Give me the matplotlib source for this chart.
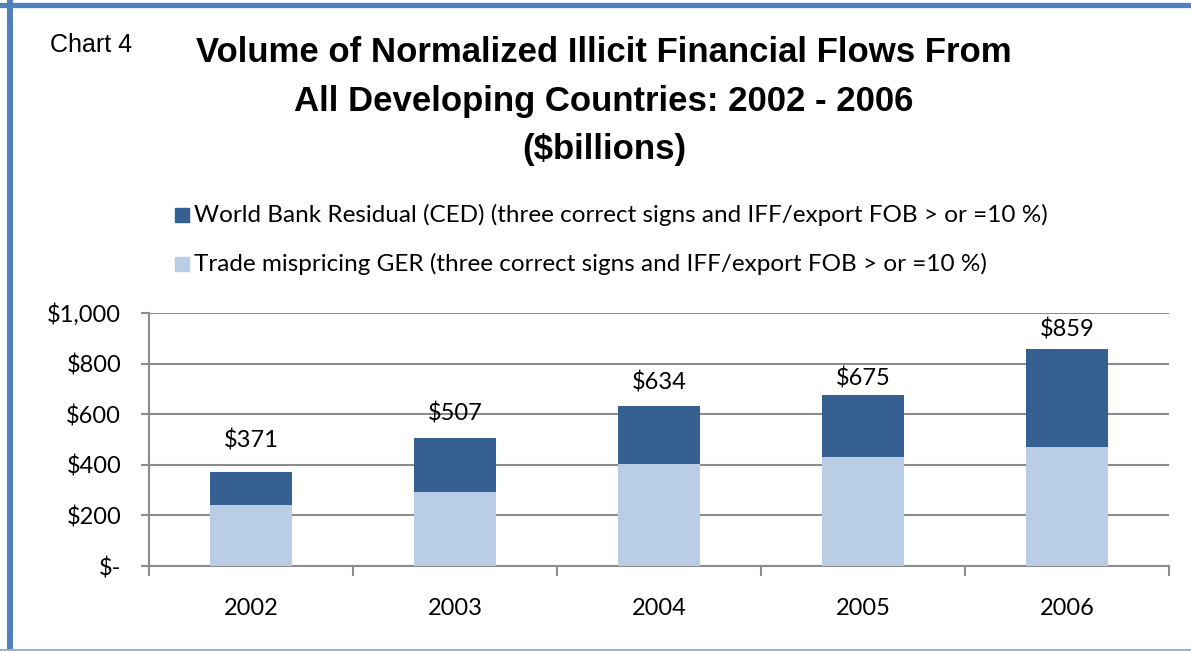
import matplotlib.pyplot as plt
from matplotlib.lines import Line2D

# Data (USD billions)
years = ['2002', '2003', '2004', '2005', '2006']
totals = [371, 507, 634, 675, 859]
trade_ger = [241, 292, 403, 432, 471]
wb_ced = [t - g for t, g in zip(totals, trade_ger)]
y_ticks = [0, 200, 400, 600, 800, 1000]
y_labels = ['$-', '$200', '$400', '$600', '$800', '$1,000']

# label gap above each bar (pixels), as placed in the original
label_gap = [21, 13, 12, 6, 8]

DARK = '#376092'
LIGHT = '#B9CDE5'
GRID = '#8C8C8C'
BODY_FONT = ['Lato', 'DejaVu Sans']
TITLE_FONT = ['Liberation Sans', 'DejaVu Sans']

W, H = 1191, 651
fig = plt.figure(figsize=(W / 100, H / 100), dpi=100)

def px(x, y):
    return x / W, 1 - y / H

# outer frame: top + left dark blue, bottom light blue
fig.lines.append(Line2D([0, 1], [1 - 4.5 / H] * 2, transform=fig.transFigure,
                        color='#4F81BD', lw=3.8))
fig.lines.append(Line2D([9.5 / W] * 2, [0, 1 - 2.5 / H], transform=fig.transFigure,
                        color='#4F81BD', lw=4.3))
fig.lines.append(Line2D([0, 1], [1 / H] * 2, transform=fig.transFigure,
                        color='#95B3D7', lw=1.5))

# axes placed in pixel coords
left, right, top, bottom = 149, 1169, 313, 566
ax = fig.add_axes([left / W, 1 - bottom / H, (right - left) / W, (bottom - top) / H])

x = range(len(years))
ax.bar(x, trade_ger, width=0.4, color=LIGHT, zorder=3)
ax.bar(x, wb_ced, width=0.4, bottom=trade_ger, color=DARK, zorder=3)

units_per_px = 1000 / (bottom - top)
for xi, t, g in zip(x, totals, label_gap):
    ax.text(xi, t + g * units_per_px, f'${t}', ha='center', va='bottom',
            fontsize=17, family=BODY_FONT)

ax.set_xlim(-0.5, len(years) - 0.5)
ax.set_ylim(0, 1000)
ax.set_yticks(y_ticks)
ax.set_yticklabels(y_labels, family=BODY_FONT, fontsize=17)
ax.set_xticks(list(x))
ax.set_xticklabels(years, family=BODY_FONT, fontsize=17)
ax.tick_params(axis='x', length=0, pad=23)
ax.tick_params(axis='y', length=6, color=GRID, width=1.5, pad=14)

# category separator ticks on x axis
for b in [i - 0.5 for i in range(len(years) + 1)]:
    ax.plot([b, b], [0, -35], color=GRID, lw=1.5, clip_on=False, zorder=4)

ax.yaxis.grid(True, color=GRID, lw=1.5, zorder=0)
for s in ['top', 'right']:
    ax.spines[s].set_visible(False)
for s in ['left', 'bottom']:
    ax.spines[s].set_color(GRID)
    ax.spines[s].set_linewidth(1.5)
ax.set_axisbelow(True)

# titles
fig.text(*px(50, 45), 'Chart 4', fontsize=18, family=TITLE_FONT,
         ha='left', va='center')
title_lines = ['Volume of Normalized Illicit Financial Flows From',
               'All Developing Countries: 2002 - 2006',
               '($billions)']
for i, line in enumerate(title_lines):
    fig.text(*px(604, 53 + 48 * i), line, fontsize=25, weight='bold',
             family=TITLE_FONT, ha='center', va='center')

# legend
legend_items = [
    (DARK, 'World Bank Residual (CED) (three correct signs and IFF/export FOB > or =10 %)'),
    (LIGHT, 'Trade mispricing GER (three correct signs and IFF/export FOB > or =10 %)'),
]
for i, (c, label) in enumerate(legend_items):
    yc = 215 + 49 * i
    ax.add_patch(plt.Rectangle(px(175, yc + 7), 14 / W, 14 / H,
                               transform=fig.transFigure, color=c,
                               clip_on=False))
    fig.text(*px(194, yc), label, fontsize=17.5, family=BODY_FONT,
             ha='left', va='center')

fig.savefig('out.png', dpi=100)
